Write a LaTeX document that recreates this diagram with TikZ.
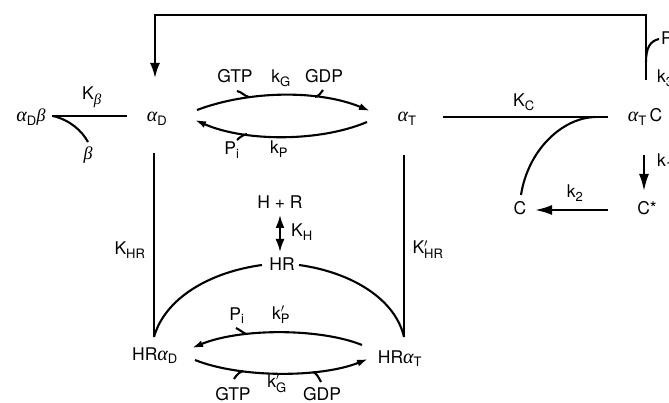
\documentclass[tikz,border=0pt]{standalone}
\usepackage{fontspec}
\setmainfont{TeX Gyre Heros}
\newfontfamily\grk{Liberation Serif}
\usetikzlibrary{arrows.meta,calc}

\newcommand{\lo}[1]{$_{\mbox{\fontsize{13}{15}\selectfont #1}}$}
\newcommand{\plo}[1]{$'_{\mbox{\fontsize{13}{15}\selectfont #1}}$}
\newcommand{\al}{{\grk\itshape\fontsize{20}{22}\selectfont α}}
\newcommand{\bt}{{\grk\itshape\fontsize{18}{20}\selectfont β}}

\tikzset{
  every node/.style={font=\fontsize{17.5}{20}\selectfont, inner sep=0pt, anchor=base},
  rxn/.style={line width=2.1pt},
  arctip/.style={-{Latex[length=11pt,width=7pt]}},
  bigtip/.style={-{Latex[length=15pt,width=10pt]}},
  stemtip/.style={-{Latex[length=17pt,width=10pt]}},
  bothtip/.style={{Latex[length=13pt,width=9pt]}-{Latex[length=13pt,width=9pt]}}
}

\begin{document}
\begin{tikzpicture}[x=1pt,y=-1pt]
\useasboundingbox (0,0) rectangle (669,403);

% species
\node (aDb) at (31,122) {\al\lo{D}\bt};
\node (aD) at (157,122) {\al\lo{D}};
\node (aT) at (407,122) {\al\lo{T}};
\node (aTC) at (645,122) {\al\lo{T}\,C};
\node (C) at (520,215) {C};
\node (Cs) at (647,215) {C*};
\node (HpR) at (280,209) {H + R};
\node (HR) at (282,271) {HR};
\node (HRaD) at (155,360) {HR\al\lo{D}};
\node (HRaT) at (400,363) {HR\al\lo{T}};

% rate and equilibrium labels
\node (Kb) at (92,100) {K$_{\mbox{\grk\itshape\fontsize{15}{17}\selectfont β}}$};
\node (lb) at (88,160) {\bt};
\node (GTPa) at (235,83) {GTP};
\node (kG) at (281,83) {k\lo{G}};
\node (GDPa) at (324,83) {GDP};
\node (Pia) at (232,155) {P\lo{i}};
\node (kP) at (279,154) {k\lo{P}};
\node (KC) at (524,107) {K\lo{C}};
\node[anchor=base west] (Pr) at (661,45) {P\lo{i}};
\node[anchor=base west] (k3) at (657,83) {k\lo{3}};
\node[anchor=base west] (k1) at (657,167) {k\lo{1}};
\node (k2) at (575,198) {k\lo{2}};
\node (KHR) at (130,255) {K\lo{HR}};
\node (KpHR) at (428,254) {K\plo{HR}};
\node (KH) at (302,237) {K\lo{H}};
\node (Pib) at (237,320) {P\lo{i}};
\node (kpP) at (281,319) {k\plo{P}};
\node (GTPb) at (233,400) {GTP};
\node (kpG) at (277,387) {k\plo{G}};
\node (GDPb) at (322,400) {GDP};

% feedback loop
\draw[rxn,bigtip] ($(aTC.base)+(1,-42)$) |- ($(aD.base)+(-2,-107)$) -- ($(aD.base)+(-2,-44)$);
\draw[rxn] ($(aTC.base)+(1,-60)$) .. controls (646,48) and (650,41) .. ($(Pr.base west)+(-2,-6)$);

% beta binding
\draw[rxn] ($(aD.base)+(-30,-6)$) -- ($(aDb.base)+(21,-6)$);
\draw[rxn] ($(aDb.base)+(22,-6)$) .. controls (70,120) and (82,131) .. ($(lb.base)+(0,-18)$);

% upper cycle
\draw[rxn,arctip] ($(aD.base)+(40,-12)$) .. controls (250,90) and (320,90) .. ($(aT.base)+(-37,-11)$);
\draw[rxn] ($(GTPa.base)+(2,8)$) .. controls (242,92) and (244,96) .. ($(GTPa.base)+(14,14)$);
\draw[rxn] ($(GDPa.base)+(-9,14)$) .. controls (319,96) and (321,93) .. ($(GDPa.base)+(-1,7)$);
\draw[rxn,arctip] ($(aT.base)+(-40,0)$) .. controls (320,142) and (245,142) .. ($(aD.base)+(38,-2)$);
\draw[rxn] ($(Pia.base)+(15,-21)$) .. controls (243,135) and (240,137) .. ($(Pia.base)+(5,-15)$);

% effector
\draw[rxn] ($(aT.base)+(36,-5)$) -- ($(aTC.base)+(-37,-5)$);
\draw[rxn] ($(aTC.base)+(-50,-5)$) .. controls (562,118) and (528,150) .. ($(C.base)+(1,-20)$);
\draw[rxn,stemtip] ($(aTC.base)+(-1,33)$) -- ($(Cs.base)+(-3,-24)$);
\draw[rxn,stemtip] ($(Cs.base)+(-39,-5)$) -- ($(C.base)+(15,-5)$);

% receptor binding
\draw[rxn] ($(aD.base)+(-3,31)$) -- ($(HRaD.base)+(-1,-23)$);
\draw[rxn] ($(aT.base)+(-3,33)$) -- ($(HRaT.base)+(4,-26)$);
\draw[rxn] ($(HR.base)+(-20,-6)$) .. controls (210,272) and (165,298) .. ($(HRaD.base)+(-1,-23)$);
\draw[rxn] ($(HR.base)+(17,-6)$) .. controls (350,272) and (395,298) .. ($(HRaT.base)+(4,-26)$);
\draw[rxn,bothtip] ($(HpR.base)+(0,6)$) -- ($(HR.base)+(-2,-19)$);

% lower cycle
\draw[rxn,arctip] ($(HRaT.base)+(-38,-18)$) .. controls (320,328) and (240,328) .. ($(HRaD.base)+(37,-12)$);
\draw[rxn] ($(Pib.base)+(-1,8)$) .. controls (240,330) and (242,332) .. ($(Pib.base)+(9,14)$);
\draw[rxn,arctip] ($(HRaD.base)+(40,0)$) .. controls (240,378) and (320,378) .. ($(HRaT.base)+(-32,-4)$);
\draw[rxn] ($(GTPb.base)+(10,-29)$) .. controls (240,372) and (237,374) .. ($(GTPb.base)+(1,-21)$);
\draw[rxn] ($(GDPb.base)+(-9,-28)$) .. controls (316,373) and (318,376) .. ($(GDPb.base)+(-1,-18)$);

\end{tikzpicture}
\end{document}
